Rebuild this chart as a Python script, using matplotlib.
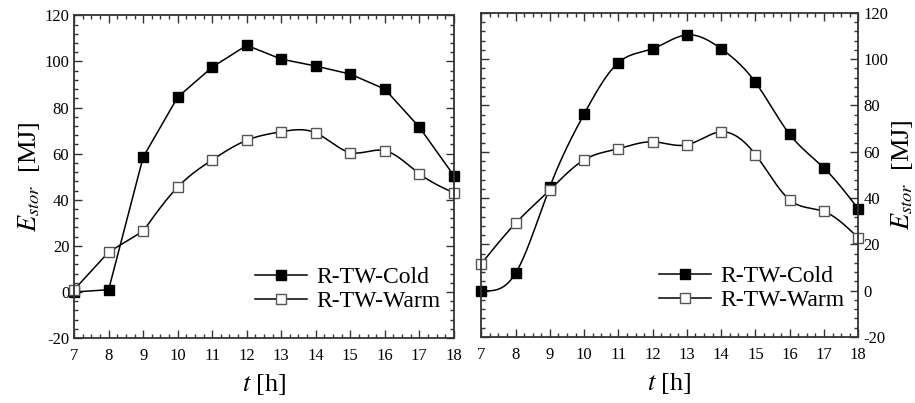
import numpy as np
import matplotlib
matplotlib.use('Agg')
import matplotlib.pyplot as plt
from matplotlib.ticker import MultipleLocator

plt.rcParams['font.family'] = ['Liberation Serif', 'DejaVu Serif']
plt.rcParams['mathtext.fontset'] = 'stix'
plt.rcParams['axes.unicode_minus'] = False

hours = [7, 8, 9, 10, 11, 12, 13, 14, 15, 16, 17, 18]

left_cold = [0, 1, 58.5, 84.5, 97.5, 107, 101, 98, 94.5, 88, 71.5, 50.5]
left_warm = [1, 17.3, 26.4, 45.5, 57.3, 65.8, 69.5, 69, 60.5, 61.3, 51.3, 43]

right_cold = [0, 7.5, 44.8, 76.3, 98.5, 104.5, 110.5, 104.5, 90, 67.5, 53, 35.3]
right_warm = [11.6, 29.1, 43.5, 56.5, 61.3, 64.3, 63, 68.6, 58.8, 39.2, 34.2, 22.8]


def smooth(x, y, n=400):
    # natural cubic spline through the points, only used for the drawn line
    x = np.asarray(x, float)
    y = np.asarray(y, float)
    k = len(x)
    h = np.diff(x)
    A = np.zeros((k, k))
    b = np.zeros(k)
    A[0, 0] = 1
    A[-1, -1] = 1
    for i in range(1, k - 1):
        A[i, i - 1] = h[i - 1]
        A[i, i] = 2 * (h[i - 1] + h[i])
        A[i, i + 1] = h[i]
        b[i] = 3 * ((y[i + 1] - y[i]) / h[i] - (y[i] - y[i - 1]) / h[i - 1])
    c = np.linalg.solve(A, b)
    xs = np.linspace(x[0], x[-1], n)
    idx = np.clip(np.searchsorted(x, xs) - 1, 0, k - 2)
    dx = xs - x[idx]
    bb = (y[idx + 1] - y[idx]) / h[idx] - h[idx] * (2 * c[idx] + c[idx + 1]) / 3
    dd = (c[idx + 1] - c[idx]) / (3 * h[idx])
    ys = y[idx] + bb * dx + c[idx] * dx ** 2 + dd * dx ** 3
    return xs, ys


def draw(ax, cold, warm, smooth_all):
    if smooth_all:
        xs, ys = smooth(hours, cold)
        ax.plot(xs, ys, color='black', lw=1.1)
        xs, ys = smooth(hours, warm)
        ax.plot(xs, ys, color='black', lw=1.1)
    else:
        ax.plot(hours, cold, color='black', lw=1.1)
        # first two segments straight, rest smoothed
        ax.plot(hours[:3], warm[:3], color='black', lw=1.1)
        xs, ys = smooth(hours[2:], warm[2:])
        ax.plot(xs, ys, color='black', lw=1.1)
    ax.plot(hours, cold, ls='none', marker='s', ms=6.5, mfc='black', mec='black', clip_on=False)
    ax.plot(hours, warm, ls='none', marker='s', ms=6.5, mfc='white', mec='#555555', mew=1.0, clip_on=False)
    # legend handles
    h1, = ax.plot([], [], color='black', lw=1.1, marker='s', ms=6.5, mfc='black', mec='black')
    h2, = ax.plot([], [], color='black', lw=1.1, marker='s', ms=6.5, mfc='white', mec='#555555')
    ax.legend([h1, h2], ['R-TW-Cold', 'R-TW-Warm'], loc='lower right',
              bbox_to_anchor=(1.02, 0.015), frameon=False, fontsize=17,
              handlelength=2.2, handletextpad=0.4, labelspacing=0.1)
    ax.set_xlim(7, 18)
    ax.set_ylim(-20, 120)
    ax.xaxis.set_major_locator(MultipleLocator(1))
    ax.xaxis.set_minor_locator(MultipleLocator(0.25))
    ax.yaxis.set_major_locator(MultipleLocator(20))
    ax.yaxis.set_minor_locator(MultipleLocator(4))
    ax.tick_params(which='both', direction='in', top=True, bottom=True, left=True, right=True,
                   labelsize=12, width=1.0, color='#333333')
    ax.tick_params(which='major', length=6)
    ax.tick_params(which='minor', length=3)
    ax.tick_params(axis='x', which='major', pad=7)
    for s in ax.spines.values():
        s.set_linewidth(1.3)
        s.set_color('#333333')
    ax.set_xlabel('$t$ [h]', fontsize=19, labelpad=6)


fig = plt.figure(figsize=(9.15, 4.03), dpi=100)
ax1 = fig.add_axes([0.081, 0.161, 0.415, 0.801])
ax2 = fig.add_axes([0.526, 0.164, 0.412, 0.804])

draw(ax1, left_cold, left_warm, False)
draw(ax2, right_cold, right_warm, True)

ax1.set_ylabel('$E_{stor}$  [MJ]', fontsize=19, labelpad=2)
ax2.yaxis.set_label_position('right')
ax2.tick_params(labelleft=False, labelright=True)
ax2.set_ylabel('$E_{stor}$  [MJ]', fontsize=19, labelpad=1)

fig.savefig('out.png', dpi=100)
